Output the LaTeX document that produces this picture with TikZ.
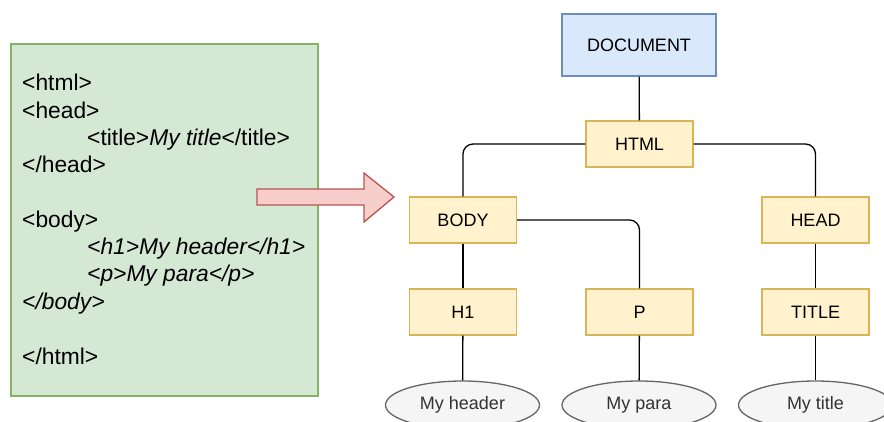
\documentclass[tikz,border=0pt]{standalone}
\usepackage{fontspec}
\setmainfont{Liberation Sans}
\usetikzlibrary{arrows, shapes.geometric}
\definecolor{codefill}{HTML}{D5E8D4}
\definecolor{codeline}{HTML}{82B366}
\definecolor{docfill}{HTML}{DAE8FC}
\definecolor{docline}{HTML}{6C8EBF}
\definecolor{tagfill}{HTML}{FFF2CC}
\definecolor{tagline}{HTML}{D6B656}
\definecolor{arrowfill}{HTML}{F8CECC}
\definecolor{arrowline}{HTML}{B85450}
\definecolor{leaffill}{HTML}{F5F5F5}
\definecolor{leafline}{HTML}{666666}
\definecolor{leaftext}{HTML}{333333}
\tikzstyle{tag} = [rectangle, draw=tagline, fill=tagfill, line width=1.3pt,
    minimum width=107pt, minimum height=46pt, font=\fontsize{18}{21}\selectfont]
\tikzstyle{leaf} = [ellipse, draw=leafline, fill=leaffill, line width=1.3pt, text=leaftext,
    minimum width=154pt, minimum height=48pt, inner sep=0pt, font=\fontsize{18}{21}\selectfont]

\begin{document}
\begin{tikzpicture}[x=1pt, y=-1pt,
code/.style = {anchor=base west, inner sep=0pt, font=\fontsize{22.8}{26}\selectfont},
link/.style = {draw, line width=1.3pt, rounded corners=10pt}
                        ]
\useasboundingbox (0,0) rectangle (884,421);
% html source
\draw[draw=codeline, fill=codefill, line width=1.3pt] (11,44) rectangle (318,396);
\node[code] (l1) at (22,90) {<html>};
\node[code] (l2) at (22,118) {<head>};
\node[code] (l3) at (87,145) {<title>\textit{My title}</title>};
\node[code] (l4) at (22,172) {</head>};
\node[code] (l5) at (22,227) {<body>};
\node[code] (l6) at (87,254) {\textit{<h1>My header</h1>}};
\node[code] (l7) at (87,281) {\textit{<p>My para</p>}};
\node[code] (l8) at (22,309) {\textit{</body>}};
\node[code] (l9) at (22,364) {</html>};
% big arrow
\draw[draw=arrowline, fill=arrowfill, line width=1.3pt]
    (257,189) -- (364,189) -- (364,173) -- (394,197) -- (364,222) -- (364,205) -- (257,205) -- cycle;
% tree
\node [tag, draw=docline, fill=docfill, minimum width=154pt, minimum height=62pt] (doc) at (639,45) {DOCUMENT};
\node [tag] (html) at (639.5,144) {HTML};
\node [tag] (body) at (463,220) {BODY};
\node [tag] (head) at (815.5,220) {HEAD};
\node [tag] (h1) at (463,312) {H1};
\node [tag] (p) at (639.5,312) {P};
\node [tag] (title) at (815.5,312) {TITLE};
\node [leaf] (myheader) at (462.5,405) {My header};
\node [leaf] (mypara) at (639,405) {My para};
\node [leaf] (mytitle) at (815.5,405) {My title};
\path[link] (doc) -- (html);
\path[link] (html.west) -| (body.north);
\path[link] (html.east) -| (head.north);
\path[link] (body.east) -| (p.north);
\path[link] (body) -- (h1);
\path[link] (head) -- (title);
\path[link] (h1) -- (myheader);
\path[link] (p) -- (mypara);
\path[link] (title) -- (mytitle);
\end{tikzpicture}
\end{document}
